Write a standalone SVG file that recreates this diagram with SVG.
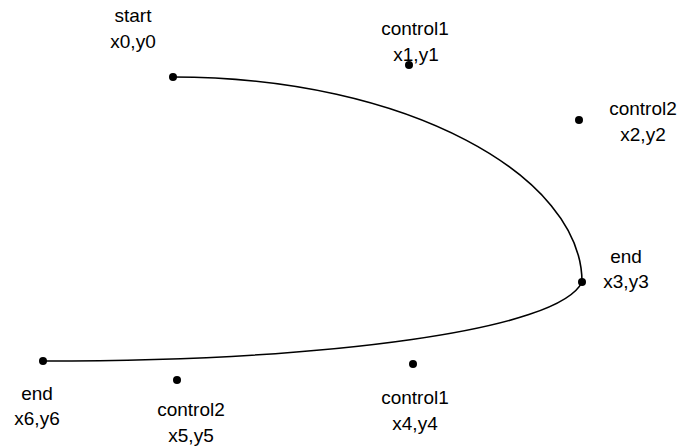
<svg xmlns="http://www.w3.org/2000/svg" width="684" height="446" viewBox="0 0 684 446">
<style>
text { font-family: "Liberation Sans", Arial, sans-serif; font-size: 19px; fill: #000; text-anchor: middle; }
.dot { fill: #000; }
.curve { fill: none; stroke: #000; stroke-width: 1.6; }
</style>
<rect width="684" height="446" fill="#fff"/>
<g id="connectors">
<path class="curve" d="M173,77 C409,77 582,177 582,282 C560,330 330,361 43,361"/>
</g>
<g id="p0"><circle class="dot" cx="173" cy="77" r="4"/><text x="133" y="22">start</text><text x="133" y="48">x0,y0</text></g>
<g id="p1"><circle class="dot" cx="409" cy="65" r="4"/><text x="415" y="35">control1</text><text x="416" y="61">x1,y1</text></g>
<g id="p2"><circle class="dot" cx="579" cy="120" r="4"/><text x="643" y="115">control2</text><text x="643" y="141">x2,y2</text></g>
<g id="p3"><circle class="dot" cx="582" cy="282" r="4"/><text x="626" y="263">end</text><text x="626" y="288">x3,y3</text></g>
<g id="p4"><circle class="dot" cx="413" cy="364" r="4"/><text x="415" y="404">control1</text><text x="415" y="430">x4,y4</text></g>
<g id="p5"><circle class="dot" cx="177" cy="380" r="4"/><text x="191" y="416">control2</text><text x="191" y="442">x5,y5</text></g>
<g id="p6"><circle class="dot" cx="43" cy="361" r="4"/><text x="37" y="400">end</text><text x="37" y="425">x6,y6</text></g>
</svg>
